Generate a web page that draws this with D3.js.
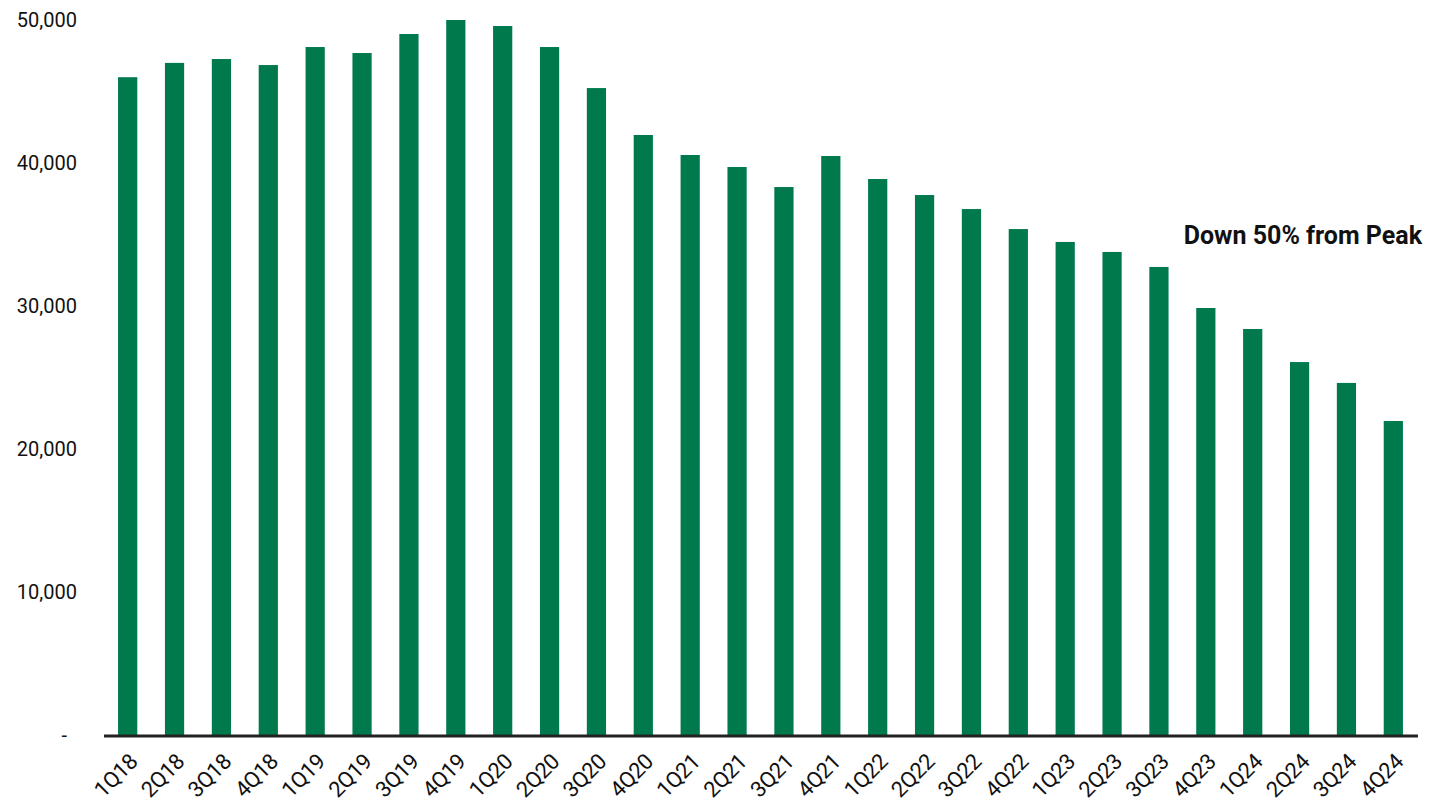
<!DOCTYPE html>
<html><head><meta charset="utf-8">
<script src="https://cdn.jsdelivr.net/npm/d3@7"></script>
<style>body{margin:0;background:#fff}svg{display:block}</style>
</head><body>
<svg id="c" width="1440" height="807"></svg>
<script>
const categories = ["1Q18","2Q18","3Q18","4Q18","1Q19","2Q19","3Q19","4Q19","1Q20","2Q20","3Q20","4Q20","1Q21","2Q21","3Q21","4Q21","1Q22","2Q22","3Q22","4Q22","1Q23","2Q23","3Q23","4Q23","1Q24","2Q24","3Q24","4Q24"];
const values = [46000,47000,47270,46850,48110,47690,49020,50000,49580,48110,45240,41960,40560,39720,38320,40490,38880,37760,36780,35380,34480,33780,32730,29860,28390,26080,24620,21960];
const yTicks = [0,10000,20000,30000,40000,50000];
const annotation = "Down 50% from Peak";

const svg = d3.select("#c");
const x = d3.scaleBand().domain(categories).range([104,1417]).paddingInner(0.59).paddingOuter(0.3);
const y = d3.scaleLinear().domain([0,50000]).range([735,20]);
const font = "Roboto, 'Noto Sans', sans-serif";

svg.selectAll("rect.bar").data(values).join("rect")
  .attr("x",(d,i)=>x(categories[i])).attr("width",x.bandwidth())
  .attr("y",d=>y(d)).attr("height",d=>y(0)-y(d))
  .attr("fill","#007A4D");

svg.append("line").attr("x1",104).attr("x2",1418).attr("y1",y(0)+1).attr("y2",y(0)+1)
  .attr("stroke","#222").attr("stroke-width",3);

svg.selectAll("text.yt").data(yTicks).join("text")
  .attr("x",d=>d===0?67:77).attr("y",d=>y(d)).attr("dy","0.35em")
  .attr("text-anchor","end").attr("font-family",font).attr("font-size",20).attr("fill","#111")
  .text(d=>d===0?"-":d3.format(",")(d));

svg.selectAll("text.xt").data(categories).join("text")
  .attr("transform",d=>`translate(${x(d)+x.bandwidth()/2},${752}) rotate(-45)`)
  .attr("text-anchor","end").attr("dy","0.72em").attr("font-family",font).attr("font-size",22).attr("fill","#111")
  .attr("letter-spacing","-0.5")
  .text(d=>d);

svg.append("text").attr("x",1422).attr("y",235).attr("dy","0.35em").attr("text-anchor","end")
  .attr("font-family",font).attr("font-size",25).attr("font-weight","bold").attr("fill","#111")
  .text(annotation);
</script>
</body></html>
